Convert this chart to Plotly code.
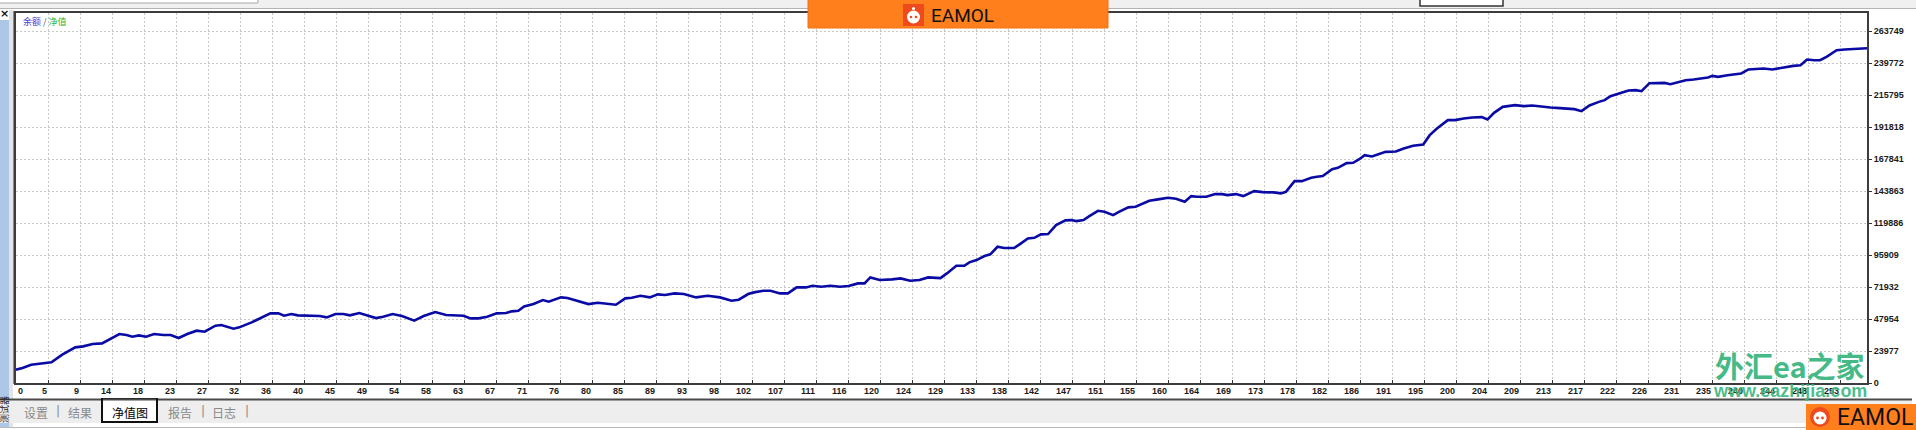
import plotly.graph_objects as go

# ---------------- data ----------------
TRADE_NO = [0.0, 0.9, 2.1, 3.4, 4.9, 6.4, 8.2, 9.3, 10.6, 11.9, 12.7, 14.3, 15.3, 16.1, 17.0, 18.0, 19.1, 20.4,
            21.4, 22.5, 23.7, 25.0, 26.1, 27.6, 28.4, 30.1, 30.9, 32.6, 35.2, 36.3, 37.1, 38.1, 39.0, 40.7, 42.0,
            43.0, 44.2, 45.3, 46.2, 47.5, 48.7, 49.8, 50.8, 52.1, 53.4, 55.1, 56.4, 58.0, 59.5, 61.0, 61.9, 62.9,
            64.0, 65.2, 66.5, 67.8, 68.6, 69.5, 70.3, 71.6, 72.9, 73.7, 75.4, 76.3, 77.5, 79.2, 80.5, 81.8, 83.0,
            84.3, 85.2, 86.4, 87.7, 88.8, 89.8, 91.1, 92.4, 94.1, 95.7, 97.4, 99.0, 100.0, 101.3, 102.1, 103.4,
            104.4, 105.7, 106.8, 108.0, 109.3, 110.2, 111.4, 112.7, 114.0, 115.2, 116.5, 117.4, 118.2, 119.5,
            121.2, 122.4, 123.7, 125.0, 126.2, 127.9, 128.8, 130.1, 131.2,
            131.9, 132.9, 134.0, 134.8, 135.8, 136.7, 138.1, 138.9, 140.0, 140.9, 141.8, 142.8, 143.9, 145.2,
            146.0, 146.7, 147.7, 148.5, 149.7, 150.6, 151.8, 152.6, 153.9, 154.9, 155.9, 156.8, 158.0, 159.4,
            160.5, 161.7, 162.6, 163.4, 164.7, 165.9, 166.9, 167.6, 168.8, 169.8, 171.3, 172.5, 174.0, 175.0,
            175.7, 176.9, 177.9, 179.2, 180.0, 180.8, 182.1, 182.9, 184.1, 185.0, 185.8, 186.6, 187.6, 188.7,
            189.5, 190.9, 192.0, 193.3, 194.7, 195.6, 196.6, 198.1, 199.1, 200.3, 201.5, 202.8, 203.6, 204.5,
            205.7, 207.4, 208.6, 209.8, 211.1, 212.3, 213.6, 214.8, 215.6, 216.6, 217.7, 219.0, 219.8, 220.6,
            221.9, 223.1, 224.1, 224.9, 226.0, 227.3, 228.1, 228.9, 230.2, 231.0, 232.1, 233.1, 234.1, 234.7,
            235.5, 236.8, 237.6, 238.7, 239.7, 240.9, 241.8, 243.0, 243.8, 244.8, 245.9, 246.9, 247.8, 248.8,
            249.6, 250.5, 251.9, 253.0, 254.2, 255.5, 256.1]

EQUITY = [9990, 11240, 13740, 14740, 15490, 21230, 26720, 27470, 29220, 29720, 32220, 36720, 35970, 34720,
          35720, 34720, 36720, 35970, 35970, 33720, 36720, 39210, 38460, 42960, 43460, 40710, 41710, 45460,
          52200, 52200, 50450, 51700, 50700, 50450, 50200, 49200, 51700, 51700, 50700, 52450, 50450, 48700,
          49700, 51700, 50200, 46710, 50200, 53200, 50950, 50700, 50450, 48450, 48450, 49700, 52200, 52450,
          53700, 54200, 57450, 59190, 62190, 60940, 64190, 63690, 61690, 59190, 60190, 59190, 58690, 63440,
          63940, 65440, 64190, 66440, 65940, 67190, 66690, 64190, 65440, 64190, 61690, 62440, 66690, 67940,
          69180, 69180, 67190, 67190, 71680, 71680, 72930, 72180, 72930, 72180, 72680, 74680, 74680, 79170,
          77180, 77680, 78430, 76680, 77180, 79170, 78670, 82170, 87920, 87920,
          90440, 92160, 95160, 96440, 102130, 101160, 101160, 104150, 108420, 108870, 111420, 111650, 118390,
          121910, 122140, 121390, 122140, 125130, 129100, 128360, 125880, 128360, 131650, 132100, 134650,
          136600, 137650, 138850, 138100, 135850, 140120, 139590, 139590, 141620, 141620, 140870, 141620,
          140120, 143870, 143120, 142890, 142140, 143340, 151360, 151360, 153830, 154580, 155110, 160350,
          161320, 164850, 165070, 167620, 170840, 169870, 172110, 173310, 173610, 175860, 177810, 178860,
          185830, 190850, 197070, 197070, 198340, 199090, 199310, 197590, 202540, 207030, 208310, 207560,
          208080, 207030, 206580, 206060, 205830, 205310, 203810, 208080, 210780, 212050, 215050, 217520,
          219320, 219550, 218800, 224790, 225020, 225020, 224040, 225760, 227040, 227560, 228310, 229060,
          230260, 229510, 230780, 231310, 232060, 235060, 235800, 235800, 235060, 235800, 237000, 237750,
          238280, 242550, 242020, 242020, 244520, 249520, 250020, 250520, 250790, 251000]

Y_TICKS = [0, 23977, 47954, 71932, 95909, 119886, 143863, 167841, 191818, 215795, 239772, 263749]

X_TICK_LABELS = [0, 5, 9, 14, 18, 23, 27, 32, 36, 40, 45, 49, 54, 58, 63, 67, 71, 76, 80, 85, 89, 93, 98,
                 102, 107, 111, 116, 120, 124, 129, 133, 138, 142, 147, 151, 155, 160, 164, 169, 173, 178,
                 182, 186, 191, 195, 200, 204, 209, 213, 217, 222, 226, 231, 235, 240, 244, 248, 253]

TABS = ["设置", "结果", "净值图", "报告", "日志"]
LEGEND_NAMES = ["余额", "净值"]
WATERMARK = ["外汇ea之家", "www.eazhijia.com"]
BRAND = "EAMOL"

# ---------------- layout helpers ----------------
W, H = 1916, 430
L, R, T, B = 16, 1867, 13, 383
X_STEP = 4.428          # trades per grid column (32 px)
X_MAX = 256.1
Y_MAX = 277400


def px(x):
    return (x - L) / (R - L)


def py(y):
    return (B - y) / (B - T)


def rect(x0, y0, x1, y1, fill, line_color=None, lw=0):
    return dict(type="rect", xref="paper", yref="paper", x0=px(x0), x1=px(x1), y0=py(y1), y1=py(y0),
                fillcolor=fill, line=dict(color=line_color or fill, width=lw), layer="above")


def circle(cx, cy, r, fill, line_color=None, lw=0):
    return dict(type="circle", xref="paper", yref="paper", x0=px(cx - r), x1=px(cx + r), y0=py(cy + r),
                y1=py(cy - r), fillcolor=fill, line=dict(color=line_color or fill, width=lw), layer="above")


def hline(x0, x1, y, color, w):
    return dict(type="line", xref="paper", yref="paper", x0=px(x0), x1=px(x1), y0=py(y), y1=py(y),
                line=dict(color=color, width=w), layer="above")


def vline(x, y0, y1, color, w):
    return dict(type="line", xref="paper", yref="paper", x0=px(x), x1=px(x), y0=py(y0), y1=py(y1),
                line=dict(color=color, width=w), layer="above")


def text(x, y, s, size, color, family="Noto Sans CJK SC", xanchor="center", opacity=1.0, angle=0):
    return dict(x=px(x), y=py(y), xref="paper", yref="paper", text=s, showarrow=False,
                xanchor=xanchor, yanchor="middle", textangle=angle, opacity=opacity,
                font=dict(size=size, color=color, family=family))


fig = go.Figure()
fig.add_trace(go.Scatter(x=TRADE_NO, y=EQUITY, mode="lines",
                         line=dict(color="#0a0aa4", width=2.6), hoverinfo="skip"))

shapes = []
annotations = []

# top window strip
shapes.append(rect(0, 0, W, 8, "#f0f0f0"))
shapes.append(hline(0, W, 8.5, "#b4b4b4", 1))
shapes.append(rect(-2, -2, 258, 3, "#ffffff", "#a8a8a8", 1))
shapes.append(rect(1420, -3, 1503, 6, "#ffffff", "#333333", 1.5))

# left side panel
shapes.append(rect(0, 20, 9, 428, "#adc7e6"))
shapes.append(rect(9, 10, 13, 428, "#e4e4e4"))
shapes.append(vline(13.5, 11, 384, "#8a8a8a", 1))
annotations.append(text(4, 13, "<b>×</b>", 11, "#111111", family="DejaVu Sans"))
annotations.append(text(5, 410, "测试器", 9, "#222222", angle=-90))

# bottom tab area
shapes.append(rect(0, 400, 1912, 423, "#eeeeee"))
shapes.append(hline(0, 1912, 399.5, "#4a4a4a", 2))
shapes.append(hline(0, 1912, 427.5, "#b8b8b8", 1))
shapes.append(rect(102, 399, 157, 422, "#ffffff", "#111111", 2))
shapes.append(hline(103, 156, 399.5, "#4a4a4a", 2))
tab_x = [36, 80, 130, 180, 224]
for name, tx in zip(TABS, tab_x):
    sel = name == "净值图"
    annotations.append(text(tx, 412, name, 12, "#000000" if sel else "#8a8a8a"))
for sx in [58, 203, 247]:
    annotations.append(text(sx, 411, "|", 12, "#8a8a8a", family="DejaVu Sans"))

# legend text top-left
annotations.append(text(21, 22, '<span style="color:#4a3fc8">%s</span>'
                        '<span style="color:#555555"> / </span>'
                        '<span style="color:#2fb52f">%s</span>' % tuple(LEGEND_NAMES),
                        9, "#333333", xanchor="left"))

# x tick labels (right-aligned at the tick like MT4)
for k, lab in enumerate(X_TICK_LABELS):
    annotations.append(dict(x=k * X_STEP, y=py(391), xref="x", yref="paper", text="<b>%d</b>" % lab,
                            showarrow=False, xanchor="left" if k == 0 else "right", yanchor="middle",
                            xshift=0 if k == 0 else 1,
                            font=dict(size=9, color="#1a1a1a", family="Liberation Sans")))

# top banner
shapes.append(rect(808, -2, 1108, 28, "#ff7f1c", "#f07010", 1))
shapes.append(rect(903, 4, 924, 26, "#ee4a1e"))
shapes.append(circle(913.5, 17, 6.5, "#ffffff"))
shapes.append(circle(913.5, 8.5, 1.6, "#ffffff"))
shapes.append(circle(911, 17, 1.3, "#ee4a1e"))
shapes.append(circle(916, 17, 1.3, "#ee4a1e"))
annotations.append(text(962, 15.5, BRAND, 19, "#111111", family="Roboto"))

# bottom-right brand
shapes.append(rect(1806, 404, 1918, 432, "#ff7f1c"))
shapes.append(circle(1820, 417, 10, "#ee4a1e"))
shapes.append(circle(1820, 418, 6.5, "#ffffff"))
shapes.append(circle(1817.5, 418, 1.4, "#ee4a1e"))
shapes.append(circle(1822.5, 418, 1.4, "#ee4a1e"))
annotations.append(text(1875, 417, BRAND, 23, "#111111", family="Roboto"))

# watermark
annotations.append(text(1790, 365, "<b>%s</b>" % WATERMARK[0], 29, "#36b57d",
                        family="Noto Sans CJK SC", opacity=0.92))
annotations.append(text(1790, 391, "<b>%s</b>" % WATERMARK[1], 18, "#36b57d",
                        family="Liberation Sans", opacity=0.88))

fig.update_layout(
    template="none",
    width=W, height=H,
    margin=dict(l=L, r=W - R, t=T, b=H - B, pad=0),
    paper_bgcolor="#ffffff", plot_bgcolor="#ffffff",
    showlegend=False,
    shapes=shapes,
    annotations=annotations,
    xaxis=dict(range=[0, X_MAX], tickmode="linear", tick0=0, dtick=X_STEP, showticklabels=False,
               showgrid=True, gridcolor="#c8c8c8", gridwidth=1, griddash="2px,2px",
               ticks="inside", ticklen=3, tickcolor="#333333", tickwidth=1,
               showline=True, mirror=True, linecolor="#3c3c3c", linewidth=2,
               zeroline=False, automargin=False, fixedrange=True),
    yaxis=dict(range=[0, Y_MAX], side="right", tickmode="array", tickvals=Y_TICKS,
               ticktext=["<b>%d</b>" % v for v in Y_TICKS],
               showgrid=True, gridcolor="#c8c8c8", gridwidth=1, griddash="2px,2px",
               ticks="outside", ticklen=3, tickcolor="#333333", tickwidth=1,
               tickfont=dict(size=9, color="#1a1a1a", family="Liberation Sans"),
               showline=True, mirror=True, linecolor="#3c3c3c", linewidth=2,
               zeroline=False, automargin=False, fixedrange=True),
)

fig.write_html("out.html", config={"displayModeBar": False},
               post_script="document.body.style.margin='0';document.body.style.overflow='hidden';")
